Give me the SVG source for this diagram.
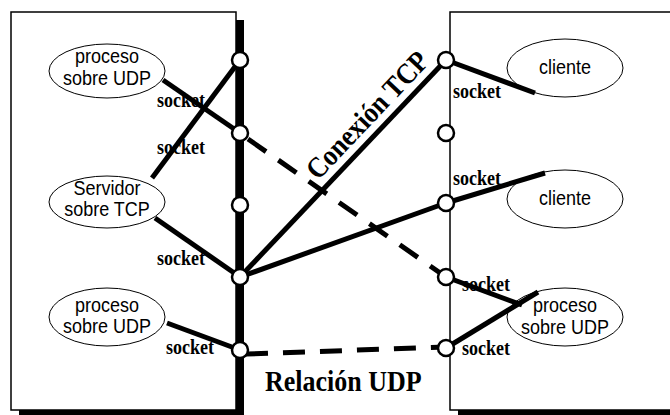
<svg xmlns="http://www.w3.org/2000/svg" width="670" height="415" viewBox="0 0 670 415">
<style>
.box{fill:#fff;stroke:#000;stroke-width:1.5}
.shadow{fill:#000}
.ell{fill:#fff;stroke:#000;stroke-width:1}
.lbl{font-family:"Liberation Sans",Arial,sans-serif;font-size:18px;fill:#000;text-anchor:middle}
.sock{font-family:"Liberation Serif","Times New Roman",serif;font-size:18px;font-weight:bold;fill:#000}
.big{font-family:"Liberation Serif","Times New Roman",serif;font-size:26px;font-weight:bold;fill:#000}
.ln{stroke:#000;stroke-width:5;fill:none}
.dash{stroke:#000;stroke-width:5;fill:none;stroke-dasharray:22 15}
.port{fill:#fff;stroke:#000;stroke-width:2.5}
</style>
<g id="hostA">
<rect class="shadow" x="19" y="20" width="225" height="400"/>
<rect class="box" x="11" y="12" width="225" height="398"/>
</g>
<g id="hostB">
<rect class="shadow" x="458" y="20" width="230" height="400"/>
<rect class="box" x="450" y="12" width="240" height="398"/>
</g>
<g id="udpA1">
<ellipse class="ell" cx="107" cy="71" rx="58" ry="27"/>
<text class="lbl" transform="translate(107,63) scale(1,1.12)">proceso</text>
<text class="lbl" transform="translate(107,85) scale(1,1.12)">sobre UDP</text>
</g>
<g id="tcpServer">
<ellipse class="ell" cx="107" cy="202" rx="58" ry="26"/>
<text class="lbl" transform="translate(107,195) scale(1,1.12)">Servidor</text>
<text class="lbl" transform="translate(107,216) scale(1,1.12)">sobre TCP</text>
</g>
<g id="udpA2">
<ellipse class="ell" cx="107" cy="317" rx="58" ry="29"/>
<text class="lbl" transform="translate(107,312) scale(1,1.12)">proceso</text>
<text class="lbl" transform="translate(107,333) scale(1,1.12)">sobre UDP</text>
</g>
<g id="cliente1">
<ellipse class="ell" cx="565" cy="68" rx="58" ry="29"/>
<text class="lbl" transform="translate(565,74) scale(1,1.12)">cliente</text>
</g>
<g id="cliente2">
<ellipse class="ell" cx="565" cy="199" rx="58" ry="29"/>
<text class="lbl" transform="translate(565,205) scale(1,1.12)">cliente</text>
</g>
<g id="udpB">
<ellipse class="ell" cx="565" cy="317" rx="58" ry="29"/>
<text class="lbl" transform="translate(565,312) scale(1,1.12)">proceso</text>
<text class="lbl" transform="translate(565,334) scale(1,1.12)">sobre UDP</text>
</g>
<g id="connectors">
<line class="ln" x1="163" y1="80" x2="240" y2="133"/>
<line class="ln" x1="152" y1="178" x2="240" y2="60"/>
<line class="ln" x1="155" y1="218" x2="240" y2="277"/>
<line class="ln" x1="167" y1="323" x2="240" y2="350"/>
<line class="ln" x1="240" y1="277" x2="446" y2="60"/>
<line class="ln" x1="240" y1="277" x2="446" y2="203"/>
<line class="dash" x1="248" y1="139" x2="446" y2="277"/>
<line class="dash" x1="246" y1="354" x2="446" y2="347"/>
<line class="ln" x1="446" y1="60" x2="535" y2="93"/>
<line class="ln" x1="446" y1="203" x2="545" y2="173"/>
<line class="ln" x1="446" y1="277" x2="522" y2="305"/>
<line class="ln" x1="446" y1="348" x2="538" y2="292"/>
</g>
<g id="ports">
<circle class="port" cx="240" cy="60" r="8"/>
<circle class="port" cx="240" cy="133" r="8"/>
<circle class="port" cx="240" cy="205" r="8"/>
<circle class="port" cx="240" cy="277" r="8"/>
<circle class="port" cx="240" cy="350" r="8"/>
<circle class="port" cx="446" cy="60" r="8"/>
<circle class="port" cx="446" cy="133" r="8"/>
<circle class="port" cx="446" cy="203" r="8"/>
<circle class="port" cx="446" cy="277" r="8"/>
<circle class="port" cx="446" cy="348" r="8"/>
</g>
<g id="labels">
<text class="sock" transform="translate(157,107) scale(1,1.17)">socket</text>
<text class="sock" transform="translate(157,154) scale(1,1.17)">socket</text>
<text class="sock" transform="translate(157,265) scale(1,1.17)">socket</text>
<text class="sock" transform="translate(166,354) scale(1,1.17)">socket</text>
<text class="sock" transform="translate(453,98) scale(1,1.17)">socket</text>
<text class="sock" transform="translate(453,185) scale(1,1.17)">socket</text>
<text class="sock" transform="translate(462,291) scale(1,1.17)">socket</text>
<text class="sock" transform="translate(462,355) scale(1,1.17)">socket</text>
<text class="big" transform="translate(318,181) rotate(-46.5) scale(1,1.12)">Conexión TCP</text>
<text class="big" transform="translate(265,391) scale(1,1.17)">Relación UDP</text>
</g>
</svg>
